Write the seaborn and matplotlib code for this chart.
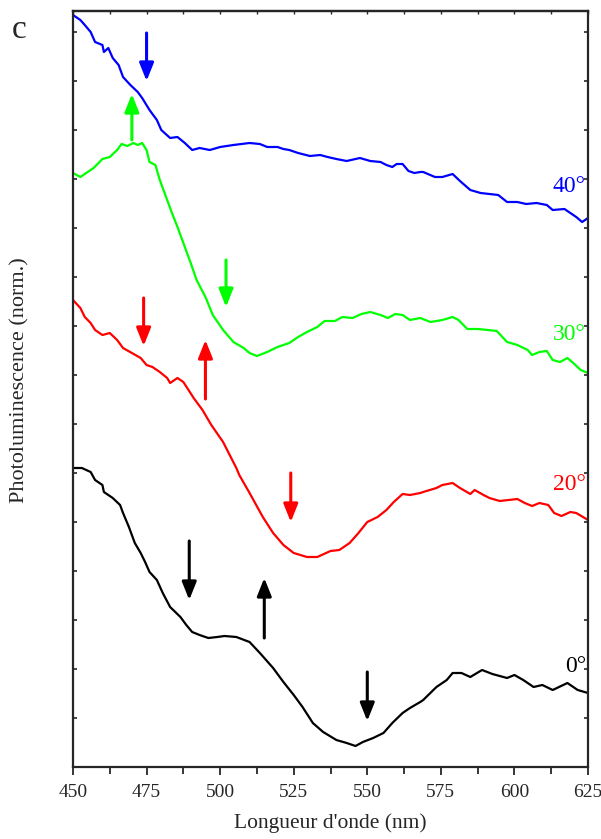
import numpy as np
import pandas as pd
import matplotlib
matplotlib.use("Agg")
import matplotlib.pyplot as plt
import seaborn as sns

# Spectra (wavelength in nm, intensity in arbitrary norm. units)
wl_0 = [450, 453, 456, 457.5, 460, 460.5, 462, 463.5, 466, 467, 469, 471, 473, 474.5, 476,
        478.5, 480.5, 483, 486.5, 488.5, 490.5, 493, 496, 499, 501.5, 505.5, 510, 513.5, 518,
        521.5, 525, 528, 531.5, 535, 539.5, 543, 546, 548.5, 552, 555.5, 558.5, 562, 564.5,
        568, 569, 573.5, 577, 579, 582, 585, 589, 592.5, 597.5, 600, 603, 606.5, 609.5, 613,
        618, 621.5, 625]
pl_0 = [299, 299, 295, 287, 282, 275, 272, 269, 262, 254, 240, 224, 214, 205, 195,
        187, 174, 160, 150, 142, 135, 132, 129, 130, 131, 130, 125, 114, 99,
        85, 72, 60, 44, 35, 27, 24, 21, 25, 29, 34, 44, 54, 59,
        65, 67, 80, 87, 94, 94, 90, 97, 93, 89, 92, 87, 80, 82, 77,
        84, 77, 74]

wl_20 = [450, 452.5, 454, 456, 457.5, 460, 462.5, 465, 467, 470, 473, 475, 477, 479.5, 482,
         483, 485.5, 487.5, 491, 494, 497, 501, 505.5, 506.5, 510, 514.5, 518, 521.5, 525,
         529.5, 533, 537.5, 540.5, 544, 547, 550, 553.5, 556.5, 559, 562, 564.5, 568, 569,
         573.5, 575.5, 579, 581.5, 585, 586.5, 589.5, 591.5, 595, 601, 603.5, 606, 608.5,
         611.5, 613.5, 616, 619, 621, 625]
pl_20 = [467, 459, 450, 444, 437, 432, 434, 427, 419, 414, 409, 402, 400, 395, 389,
         384, 389, 385, 369, 357, 342, 325, 299, 292, 274, 250, 234, 222, 214,
         210, 210, 216, 217, 224, 234, 245, 250, 257, 265, 273, 272, 274, 275,
         279, 282, 284, 279, 273, 277, 272, 269, 266, 268, 264, 261, 264,
         262, 254, 251, 255, 254, 247]

wl_30 = [450, 452.5, 455, 457, 460, 462.5, 465, 466.5, 468.5, 470.5, 472, 473.5, 475, 476,
         478, 479.5, 482, 483.5, 485.5, 487.5, 490, 492, 495, 497.5, 501, 504.5, 508, 510,
         512.5, 516, 519.5, 523.5, 526.5, 529.5, 533, 535.5, 539, 541.5, 545, 548, 551,
         554.5, 557, 559.5, 562, 564.5, 568, 571.5, 575.5, 579, 581, 584, 587.5, 591, 594,
         597.5, 601, 604.5, 606, 608.5, 611, 613, 615.5, 618, 620, 622.5, 625]
pl_30 = [594, 590, 595, 599, 608, 610, 617, 623, 621, 624, 622, 624, 617, 605,
         602, 587, 567, 555, 540, 524, 504, 487, 470, 452, 437, 425, 419, 414,
         411, 415, 420, 424, 430, 435, 440, 446, 446, 450, 449, 453, 455,
         452, 449, 453, 452, 447, 449, 445, 447, 450, 447, 438, 438, 437, 436,
         425, 422, 417, 412, 415, 416, 407, 405, 409, 404, 397, 394]

wl_40 = [450, 452.5, 454, 456, 457.5, 460, 460.5, 462, 463.5, 465.5, 467, 469.5, 472, 473.5,
         476, 478.5, 480, 483, 485.5, 488, 490.5, 493, 496.5, 500, 504.5, 510, 513.5, 516,
         519.5, 521.5, 523.5, 526.5, 530.5, 534, 536.5, 539.5, 543, 547.5, 551, 554.5, 556.5,
         558.5, 560, 562, 564, 566, 568, 569, 573, 575.5, 579, 581.5, 585, 588.5, 591.5,
         594.5, 597.5, 601, 604, 607.5, 611, 613, 617, 619, 621, 623, 625]
pl_40 = [752, 747, 742, 735, 725, 722, 715, 719, 709, 702, 690, 682, 675, 669,
         657, 647, 637, 629, 630, 624, 617, 619, 617, 620, 622, 624, 623, 620,
         620, 618, 617, 614, 611, 612, 610, 608, 606, 609, 606, 605, 602,
         600, 603, 603, 596, 594, 595, 595, 590, 590, 593, 586, 577, 574, 573,
         572, 565, 565, 563, 564, 562, 557, 558, 554, 550, 545, 549]

angles = ["0°", "20°", "30°", "40°"]
colors = ["black", "#ff0000", "#00ff00", "#0000ff"]
label_y = [100, 282, 432, 580]

# arrows: (wavelength, tail, tip) for each angle
arrows_0 = [(489.5, 226, 167), (515, 129, 189), (550, 95, 46)]
arrows_20 = [(474, 469, 421), (495, 368, 427), (524, 294, 245)]
arrows_30 = [(470, 627, 673), (502, 507, 460)]
arrows_40 = [(475, 734, 686)]

frames = []
for ang, wl, pl in zip(angles, [wl_0, wl_20, wl_30, wl_40], [pl_0, pl_20, pl_30, pl_40]):
    frames.append(pd.DataFrame({"wavelength": wl, "pl": pl, "angle": ang}))
df = pd.concat(frames, ignore_index=True)

sns.set_style("ticks")
plt.rcParams["font.family"] = ["Liberation Serif", "DejaVu Serif"]

fig = plt.figure(figsize=(6.01, 8.39), dpi=100)
ax = fig.add_axes([73 / 601, 1 - 767 / 839, 515 / 601, 756 / 839])

sns.lineplot(data=df, x="wavelength", y="pl", hue="angle", palette=colors,
             hue_order=angles, sort=False, estimator=None, lw=1.6, legend=False, ax=ax)

for ang, col, ly in zip(angles, colors, label_y):
    ax.text(624.3, ly, ang, color=col, fontsize=17, ha="right", va="center")

for arrs, col in zip([arrows_0, arrows_20, arrows_30, arrows_40], colors):
    for x, tail, tip in arrs:
        ax.annotate("", xy=(x, tip), xytext=(x, tail),
                    arrowprops=dict(arrowstyle="-|>,head_length=0.9,head_width=0.36",
                                    mutation_scale=12, lw=2.2, color=col,
                                    shrinkA=0, shrinkB=0))

ax.set_xlim(450, 625)
ax.set_ylim(0, 756)
ax.set_xticks(np.arange(450, 626, 25))
ax.set_xticks(np.arange(462.5, 625, 25), minor=True)
ax.set_yticks(np.arange(49, 756, 49))
ax.set_yticklabels([])
ax.tick_params(axis="x", which="major", direction="out", length=6, width=1.3,
               labelsize=14, pad=6)
ax.tick_params(axis="x", which="minor", direction="out", length=5, width=1.3)
ax.tick_params(axis="y", direction="in", length=3, width=1.2, left=True, right=True)
for s in ax.spines.values():
    s.set_linewidth(1.6)
    s.set_visible(True)

# tiny inward ticks along the top edge
top = ax.secondary_xaxis("top")
top.set_xticks(np.arange(450, 626, 12.5))
top.set_xticklabels([])
top.tick_params(direction="in", length=2, width=1.0)
top.spines["top"].set_linewidth(1.6)

ax.set_xlabel("Longueur d'onde (nm)", fontsize=15.5, labelpad=9)
ax.set_ylabel("Photoluminescence (norm.)", fontsize=16)
ax.yaxis.set_label_coords(-0.085, 0.512)
fig.text(12 / 601, 1 - 30 / 839, "c", fontsize=24, ha="left", va="center")

fig.savefig("out.png", dpi=100)
